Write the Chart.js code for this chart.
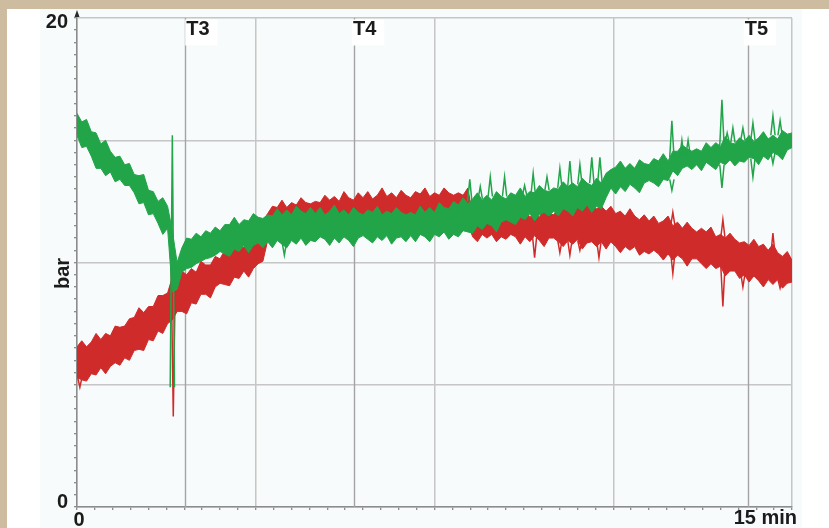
<!DOCTYPE html>
<html>
<head>
<meta charset="utf-8">
<script src="https://cdn.jsdelivr.net/npm/chart.js@4/dist/chart.umd.min.js"></script>
<style>
  html, body { margin: 0; padding: 0; background: #ffffff; }
  #wrap { position: relative; width: 829px; height: 528px; background: #cdbca0; overflow: hidden; }
  #c { position: absolute; left: 7px; top: 9px; }
</style>
</head>
<body>
<div id="wrap"><canvas id="c" width="822" height="519"></canvas></div>
<script>
// Pressure log, sampled every 0.1 min (0 .. 15 min), in bar.
const SAMPLE_STEP = 0.1;

// Green trace: upper and lower envelope of the noisy band
const greenHi = [
  16.1, 15.75, 15.85, 15.35, 15.3, 14.85, 15.0, 14.55, 14.3, 14.35,
  14.0, 14.05, 13.6, 13.55, 13.6, 12.95, 12.9, 12.5, 12.65, 12.3,
  11.3, 10.0, 10.6, 11.0, 10.95, 11.2, 11.05, 11.3, 11.2, 11.45,
  11.3, 11.55, 11.55, 11.85, 11.55, 11.75, 11.7, 12.0, 11.85, 11.8,
  11.95, 11.9, 12.2, 11.95, 12.15, 11.95, 12.3, 12.1, 12.0, 12.25,
  12.0, 12.25, 11.95, 12.1, 12.35, 12.0, 12.15, 11.95, 12.25, 12.05,
  11.95, 12.15, 12.05, 12.3, 11.95, 12.1, 12.0, 12.25, 12.05, 11.95,
  12.05, 11.95, 12.3, 12.05, 12.25, 12.05, 12.45, 12.25, 12.2, 12.5,
  12.35, 12.65, 12.4, 12.6, 12.85, 12.55, 12.75, 12.55, 12.9, 12.7,
  12.6, 12.85, 12.75, 13.05, 12.7, 12.9, 12.85, 13.15, 12.95, 12.9,
  13.05, 13.0, 13.3, 13.1, 13.25, 13.1, 13.45, 13.25, 13.15, 13.45,
  13.25, 13.65, 13.8, 13.9, 14.15, 13.85, 14.05, 13.85, 14.2, 14.05,
  14.0, 14.25, 14.15, 14.45, 14.15, 14.55, 14.55, 14.8, 14.65, 14.55,
  14.65, 14.55, 14.9, 14.7, 14.9, 14.75, 15.15, 14.9, 14.85, 15.1,
  14.95, 15.2, 14.95, 15.1, 15.35, 15.05, 15.2, 15.05, 15.4, 15.25,
  15.3
];
const greenLo = [
  15.2, 14.7, 14.75, 14.35, 13.85, 13.85, 13.55, 13.7, 13.3, 13.4,
  13.15, 13.15, 12.85, 12.4, 12.45, 11.95, 12.0, 11.6, 11.15, 11.4,
  8.8, 8.9, 9.6, 9.75, 9.8, 9.95, 10.05, 10.15, 10.2, 10.3,
  10.45, 10.35, 10.25, 10.55, 10.45, 10.7, 10.4, 10.7, 10.8, 10.6,
  10.85, 10.6, 10.9, 10.75, 10.6, 10.9, 10.75, 11.0, 10.7, 10.9,
  10.85, 11.05, 10.95, 10.7, 11.0, 10.8, 11.05, 10.9, 10.65, 11.0,
  11.1, 10.95, 10.8, 11.05, 10.9, 11.1, 10.75, 11.0, 11.05, 10.85,
  11.1, 10.85, 11.15, 11.05, 10.85, 11.15, 11.05, 11.25, 10.95, 11.15,
  11.05, 11.3, 11.25, 11.2, 11.5, 11.35, 11.6, 11.5, 11.25, 11.65,
  11.75, 11.65, 11.55, 11.85, 11.75, 12.0, 11.7, 11.95, 12.05, 11.9,
  12.1, 11.9, 12.2, 12.1, 11.9, 12.25, 12.1, 12.35, 12.05, 12.3,
  12.2, 12.65, 13.05, 12.8, 13.1, 12.9, 13.2, 13.05, 12.85, 13.25,
  13.35, 13.25, 13.1, 13.4, 13.35, 13.75, 13.55, 13.85, 13.95, 13.8,
  14.0, 13.75, 14.1, 13.95, 13.8, 14.1, 14.0, 14.2, 13.95, 14.15,
  14.1, 14.3, 14.25, 14.0, 14.35, 14.2, 14.5, 14.4, 14.2, 14.6,
  14.7
];

// Red trace: upper and lower envelope of the noisy band
const redHi = [
  6.55, 6.8, 6.55, 6.75, 7.1, 6.85, 7.1, 7.0, 7.4, 7.35,
  7.4, 7.7, 7.75, 8.15, 7.95, 8.2, 8.2, 8.65, 8.65, 8.75,
  9.4, 9.2, 9.65, 9.5, 9.75, 9.6, 10.05, 9.9, 9.9, 10.25,
  10.15, 10.5, 10.3, 10.55, 10.85, 10.6, 10.85, 10.8, 11.4, 11.7,
  12.0, 12.3, 12.25, 12.55, 12.25, 12.45, 12.35, 12.65, 12.45, 12.4,
  12.5, 12.45, 12.75, 12.55, 12.7, 12.5, 12.9, 12.65, 12.55, 12.85,
  12.65, 12.9, 12.6, 12.75, 13.05, 12.7, 12.85, 12.65, 12.95, 12.75,
  12.65, 12.9, 12.8, 13.05, 12.7, 12.85, 12.75, 13.05, 12.85, 12.75,
  12.85, 12.75, 13.05, 11.9, 12.0, 11.8, 12.1, 11.85, 11.7, 11.95,
  11.75, 12.0, 11.7, 11.9, 12.15, 11.85, 12.0, 11.85, 12.2, 12.0,
  11.95, 12.2, 12.15, 12.4, 12.1, 12.25, 12.2, 12.45, 12.3, 12.2,
  12.3, 12.1, 12.3, 12.0, 12.1, 11.9, 12.2, 11.9, 11.75, 11.95,
  11.7, 11.9, 11.6, 11.7, 11.9, 11.5, 11.65, 11.4, 11.65, 11.4,
  11.25, 11.4, 11.25, 11.45, 11.05, 11.15, 11.0, 11.2, 10.95, 10.8,
  10.85, 10.7, 10.95, 10.65, 10.75, 10.5, 10.75, 10.4, 10.25, 10.45,
  10.1
];
const redLo = [
  5.3, 5.2, 5.15, 5.45, 5.4, 5.7, 5.45, 5.75, 5.9, 5.8,
  6.1, 6.0, 6.4, 6.45, 6.4, 6.85, 6.8, 7.2, 7.1, 7.5,
  7.65, 8.0, 8.0, 7.9, 8.35, 8.3, 8.7, 8.7, 8.55, 9.0,
  9.15, 9.1, 9.05, 9.4, 9.35, 9.65, 9.4, 9.75, 9.95, 10.05,
  10.9, 11.0, 10.95, 11.05, 11.1, 11.05, 11.15, 11.2, 11.15, 11.25,
  11.3, 11.25, 11.3, 11.35, 11.3, 11.35, 11.4, 11.35, 11.4, 11.4,
  11.45, 11.4, 11.45, 11.45, 11.4, 11.45, 11.5, 11.45, 11.45, 11.4,
  11.5, 11.45, 11.5, 11.5, 11.45, 11.55, 11.5, 11.55, 11.55, 11.5,
  11.55, 11.3, 11.6, 11.05, 10.85, 11.15, 11.0, 11.15, 10.85, 11.05,
  10.95, 11.15, 11.05, 10.75, 11.05, 10.85, 11.1, 10.9, 10.65, 11.0,
  11.0, 10.85, 10.65, 10.9, 10.75, 10.95, 10.55, 10.8, 10.85, 10.65,
  10.85, 10.55, 10.85, 10.65, 10.4, 10.65, 10.5, 10.65, 10.3, 10.45,
  10.35, 10.5, 10.35, 10.1, 10.35, 10.1, 10.3, 10.15, 9.85, 10.15,
  10.15, 9.95, 9.75, 9.95, 9.75, 9.85, 9.45, 9.65, 9.65, 9.35,
  9.5, 9.2, 9.45, 9.25, 9.0, 9.3, 9.1, 9.3, 8.95, 9.15,
  9.2
];

// Pressure peaks: [time (min), band value (bar), peak value (bar)]
const greenSpikes = [
  [2.00, 4.9, 15.2],
  [4.35, 10.8, 10.3],
  [8.24, 12.5, 13.4],
  [8.46, 12.6, 13.1],
  [8.67, 12.7, 13.5],
  [8.97, 12.7, 13.5],
  [9.39, 12.75, 13.15],
  [9.57, 12.8, 13.65],
  [9.86, 12.95, 13.5],
  [10.13, 13.05, 13.85],
  [10.34, 13.1, 14.15],
  [10.55, 13.2, 14.0],
  [10.80, 13.25, 14.3],
  [10.97, 13.3, 14.3],
  [12.48, 14.3, 15.8],
  [12.48, 13.4, 12.95],
  [12.69, 14.3, 15.0],
  [12.82, 14.4, 15.0],
  [13.53, 14.8, 16.65],
  [13.53, 14.0, 13.05],
  [13.64, 14.9, 15.3],
  [13.76, 14.9, 15.5],
  [13.97, 15.0, 15.5],
  [14.18, 15.0, 15.7],
  [14.18, 14.25, 13.5],
  [14.60, 15.2, 16.0],
  [14.60, 14.5, 14.05],
  [14.75, 15.2, 15.8]
];
const redSpikes = [
  [0.06, 5.3, 4.9],
  [2.02, 9.8, 3.7],
  [9.60, 11.1, 10.2],
  [10.13, 10.9, 10.4],
  [10.34, 10.9, 10.3],
  [10.55, 10.9, 10.5],
  [10.95, 10.85, 10.2],
  [12.50, 10.4, 9.55],
  [12.50, 11.5, 12.05],
  [13.55, 9.9, 8.2],
  [13.55, 11.0, 11.75],
  [13.97, 9.55, 9.0],
  [14.60, 10.3, 11.2],
  [14.75, 9.3, 8.95]
];

// Event markers
const markerTimes = [2.27, 5.81, 14.07];
const markerNames = ['T3', 'T4', 'T5'];

// Axis ranges and labels
const X_MIN = 0, X_MAX = 15, X_MAJOR = 3.75, X_MINOR = 0.375;
const Y_MIN = 0, Y_MAX = 20, Y_MAJOR = 5, Y_MINOR = 0.5;
const yEndLabels = ['0', '20'];
const xEndLabels = ['0', '15 min'];
const yTitle = 'bar';

// ---- styling ----
const GREEN = '#22a449';
const RED = '#cf2b2a';
const GRID = '#c6c6c6';
const MARKER = '#a4a4a4';
const AXIS = '#8c8c8c';
const TEXT = '#1b1b1b';
const FONT = 'bold 20px "Liberation Sans", Arial, sans-serif';
const SPIKE_HALF = 0.045;
const markerLabelShift = [1, -1, -3];

const toPoints = vals => vals.map((v, i) => ({ x: +(i * SAMPLE_STEP).toFixed(2), y: v }));
const spikePoints = list => {
  const pts = [];
  list.forEach(([t, from, to]) => {
    pts.push({ x: t - SPIKE_HALF, y: from }, { x: t, y: to }, { x: t + SPIKE_HALF, y: from }, { x: t, y: null });
  });
  return pts;
};
const onStep = (v, step) => Math.abs(v / step - Math.round(v / step)) < 1e-6;

const band = (label, data, color, fill) => ({
  label, data, borderColor: color, backgroundColor: color, borderWidth: 1,
  pointRadius: 0, tension: 0, fill
});

const decor = {
  id: 'decor',
  beforeDraw(chart) {
    const { ctx, width, height } = chart;
    ctx.save();
    ctx.fillStyle = '#ffffff';
    ctx.fillRect(0, 0, width, height);
    ctx.fillStyle = '#f7fbfb';
    ctx.fillRect(33, 0, 762, height);
    ctx.restore();
  },
  beforeDatasetsDraw(chart) {
    const { ctx, chartArea: a, scales: { x } } = chart;
    ctx.save();
    ctx.strokeStyle = MARKER;
    ctx.lineWidth = 1.4;
    markerTimes.forEach(t => {
      const px = Math.round(x.getPixelForValue(t)) + 0.5;
      ctx.beginPath();
      ctx.moveTo(px, a.top);
      ctx.lineTo(px, a.bottom);
      ctx.stroke();
    });
    ctx.restore();
  },
  afterDraw(chart) {
    const { ctx, chartArea: a, scales: { x, y } } = chart;
    ctx.save();
    ctx.font = FONT;
    ctx.textBaseline = 'middle';

    // event marker labels on white tags
    markerNames.forEach((name, i) => {
      const left = x.getPixelForValue(markerTimes[i]) + markerLabelShift[i];
      const w = ctx.measureText(name).width;
      ctx.fillStyle = '#ffffff';
      ctx.fillRect(left - 1, a.top + 1.5, w + 9, 26);
      ctx.fillStyle = TEXT;
      ctx.textAlign = 'left';
      ctx.fillText(name, left, a.top + 11);
    });

    // y end labels
    ctx.fillStyle = TEXT;
    ctx.textAlign = 'right';
    ctx.fillText(yEndLabels[0], a.left - 9, y.getPixelForValue(Y_MIN) - 5);
    ctx.fillText(yEndLabels[1], a.left - 9, y.getPixelForValue(Y_MAX) + 4);

    // x end labels
    ctx.textAlign = 'center';
    ctx.fillText(xEndLabels[0], x.getPixelForValue(X_MIN) + 2, a.bottom + 13);
    ctx.textAlign = 'right';
    ctx.fillText(xEndLabels[1], x.getPixelForValue(X_MAX) + 5, a.bottom + 11);

    // y title
    ctx.save();
    ctx.translate(a.left - 14, (a.top + a.bottom) / 2 + 11);
    ctx.rotate(-Math.PI / 2);
    ctx.textAlign = 'center';
    ctx.fillText(yTitle, 0, 0);
    ctx.restore();

    // arrow head on the y axis
    ctx.fillStyle = '#2a2a2a';
    ctx.beginPath();
    ctx.moveTo(a.left, a.top - 8);
    ctx.lineTo(a.left - 2.5, a.top - 1);
    ctx.lineTo(a.left + 2.5, a.top - 1);
    ctx.closePath();
    ctx.fill();
    ctx.restore();
  }
};

new Chart(document.getElementById('c'), {
  type: 'line',
  data: {
    datasets: [
      { label: 'green peaks', data: spikePoints(greenSpikes), borderColor: GREEN, borderWidth: 1.5, pointRadius: 0, fill: false, spanGaps: false },
      band('green max', toPoints(greenHi), GREEN, '+1'),
      band('green min', toPoints(greenLo), GREEN, false),
      { label: 'red peaks', data: spikePoints(redSpikes), borderColor: RED, borderWidth: 1.5, pointRadius: 0, fill: false, spanGaps: false },
      band('red max', toPoints(redHi), RED, '+1'),
      band('red min', toPoints(redLo), RED, false)
    ]
  },
  options: {
    responsive: false,
    animation: false,
    devicePixelRatio: 1,
    events: [],
    layout: { padding: { left: 66, right: 37, top: 9, bottom: 17 } },
    plugins: { legend: { display: false }, tooltip: { enabled: false } },
    scales: {
      x: {
        type: 'linear', min: X_MIN, max: X_MAX,
        ticks: { display: false, stepSize: X_MINOR },
        grid: {
          color: c => (c.tick && onStep(c.tick.value, X_MAJOR)) ? GRID : 'rgba(0,0,0,0)',
          lineWidth: 1.5, drawTicks: true, tickLength: 3, tickWidth: 1, tickColor: '#6a6a6a'
        },
        border: { display: true, color: AXIS, width: 1.5 },
        afterFit: s => { s.height = 4; }
      },
      y: {
        type: 'linear', min: Y_MIN, max: Y_MAX,
        ticks: { display: false, stepSize: Y_MINOR },
        grid: {
          color: c => (c.tick && onStep(c.tick.value, Y_MAJOR)) ? GRID : 'rgba(0,0,0,0)',
          lineWidth: 1.5, drawTicks: true, tickLength: 3, tickWidth: 1, tickColor: '#6a6a6a'
        },
        border: { display: true, color: AXIS, width: 1.5 },
        afterFit: s => { s.width = 4; }
      }
    }
  },
  plugins: [decor]
});
</script>
</body>
</html>
